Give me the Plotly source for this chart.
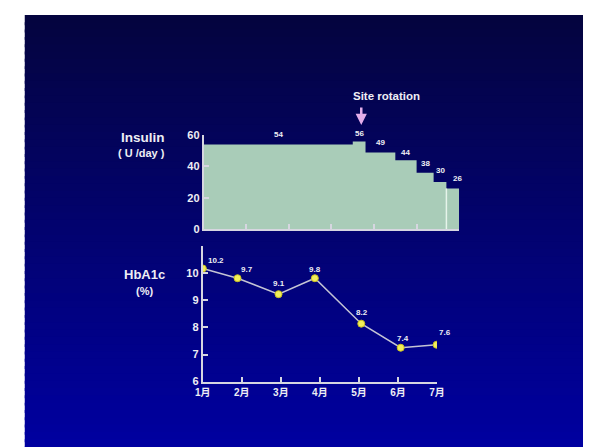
import plotly.graph_objects as go

# ---------------- data ----------------
months = ["1月", "2月", "3月", "4月", "5月", "6月", "7月"]
month_pos = [0, 1, 2, 3, 4, 5, 6]

insulin_step_start = [0.0, 3.5, 3.8, 4.5, 5.0, 5.4, 5.7]
insulin_step_end = 6.0
insulin_dose = [54, 56, 49, 44, 36, 30, 26]
insulin_labels = ["54", "56", "49", "44", "38", "30", "26"]
insulin_ticks = [0, 20, 40, 60]
site_rotation_month = 3.7

hba1c_time = [0.0, 0.89, 1.94, 2.87, 4.06, 5.07, 5.99]
hba1c_value = [10.18, 9.82, 9.23, 9.82, 8.14, 7.25, 7.36]
hba1c_labels = ["10.2", "9.7", "9.1", "9.8", "8.2", "7.4", "7.6"]
hba1c_ticks = [6, 7, 8, 9, 10, 11]
hba1c_ticktext = ["6", "7", "8", "9", "10", ""]

# ---------------- geometry helpers ----------------
# the page places the figure 8px from the left/top of the window
W, H = 591, 447
OX, OY = 8, 8


def fx(px):
    return (px - OX) / W


def fy(py):
    return 1 - (py - OY) / H


FONT = "Liberation Sans, Arial, Noto Sans CJK SC, sans-serif"
TXT = "#eeeef4"
AXC = "#d6d6e0"

fig = go.Figure()

# insulin step area
sx = insulin_step_start + [insulin_step_end]
sy = insulin_dose + [insulin_dose[-1]]
fig.add_trace(go.Scatter(
    x=sx, y=sy, mode="lines", line=dict(shape="hv", width=0, color="#a9ccb8"),
    fill="tozeroy", fillcolor="#a9ccb8", hoverinfo="skip", showlegend=False,
    xaxis="x", yaxis="y"))

# HbA1c line
fig.add_trace(go.Scatter(
    x=hba1c_time, y=hba1c_value, mode="lines+markers",
    line=dict(color="#c4c4d4", width=1.5),
    marker=dict(size=7, color="#f2ee5a", line=dict(color="#c8c020", width=1)),
    hoverinfo="skip", showlegend=False, xaxis="x2", yaxis="y2"))

annotations = []

# insulin value labels
ins_xshift = [0, 0, 0, 0, 0, 0, 5]
ins_yshift = [4, 1, 3, 1, 3, 5, 3]
for i, lab in enumerate(insulin_labels):
    end = insulin_step_start[i + 1] if i + 1 < len(insulin_step_start) else insulin_step_end
    mid = (insulin_step_start[i] + end) / 2
    annotations.append(dict(
        x=mid, y=insulin_dose[i], xref="x", yref="y", text=lab, showarrow=False,
        xanchor="center", yanchor="bottom", xshift=ins_xshift[i], yshift=ins_yshift[i],
        font=dict(family=FONT, size=8, color=TXT, weight="bold")))

# HbA1c value labels
hb_dx = [13, 9, 0, 0, 1, 2, 8]
hb_dy = [8, 9, 11, 9, 11, 9, 12]
for i, lab in enumerate(hba1c_labels):
    annotations.append(dict(
        x=hba1c_time[i], y=hba1c_value[i], xref="x2", yref="y2", text=lab,
        showarrow=False, xanchor="center", yanchor="middle",
        xshift=hb_dx[i], yshift=hb_dy[i],
        font=dict(family=FONT, size=8, color=TXT, weight="bold")))

# site rotation
annotations.append(dict(
    x=fx(389), y=fy(92.5), xref="paper", yref="paper", text="Site rotation",
    showarrow=False, xanchor="center", yanchor="middle",
    font=dict(family=FONT, size=11.5, color=TXT, weight="bold")))
annotations.append(dict(
    x=site_rotation_month, y=fy(122), xref="x", yref="paper", text="",
    showarrow=True, arrowhead=2, arrowsize=0.9, arrowwidth=2.5,
    arrowcolor="#e4aeea", ax=0, ay=-19))

# axis titles
for text, x, y, size in [("Insulin", 138.5, 135, 13.5), ("( U /day )", 137.5, 151, 11),
                         ("HbA1c", 140.5, 275.5, 13), ("(%)", 140, 292.5, 11)]:
    annotations.append(dict(
        x=fx(x), y=fy(y), xref="paper", yref="paper", text=text, showarrow=False,
        xanchor="center", yanchor="middle",
        font=dict(family=FONT, size=size, color=TXT, weight="bold")))

# background gradient (bands overlap to avoid seams)
shapes = []
top, bottom = 9, 460
N = 60
c0 = (4, 4, 62)
c1 = (0, 0, 162)
for k in range(N):
    y0 = top + (bottom - top) * k / N
    y1 = y0 + (bottom - top) / N + 3
    t = (k + 0.5) / N
    col = tuple(round(c0[j] + (c1[j] - c0[j]) * t) for j in range(3))
    shapes.append(dict(
        type="rect", xref="paper", yref="paper", x0=fx(17), x1=fx(W + 20),
        y0=fy(min(y1, bottom)), y1=fy(y0), fillcolor="rgb(%d,%d,%d)" % col,
        line=dict(width=0), layer="below"))

# light edge line inside last insulin step
shapes.append(dict(
    type="line", xref="x", yref="y", x0=insulin_step_start[-1], x1=insulin_step_start[-1],
    y0=0, y1=insulin_dose[-1], line=dict(color="#e6f4ea", width=1.5), layer="above"))

axis_common = dict(
    showline=True, linecolor=AXC, linewidth=2, ticks="inside", ticklen=5,
    tickcolor=AXC, tickwidth=1.5, showgrid=False, zeroline=False,
    tickfont=dict(family=FONT, size=11, color=TXT, weight="bold"), fixedrange=True)

fig.update_layout(
    width=W, height=H, margin=dict(l=0, r=0, t=0, b=0),
    paper_bgcolor="white", plot_bgcolor="rgba(0,0,0,0)",
    showlegend=False,
    xaxis=dict(domain=[fx(201), fx(463.5)], range=[0, 6], tickvals=month_pos,
               showticklabels=False, anchor="y", **axis_common),
    yaxis=dict(domain=[fy(229), fy(132.5)], range=[0, 60], tickvals=insulin_ticks,
               anchor="x", **axis_common),
    xaxis2=dict(domain=[fx(200), fx(440.7)], range=[0, 6], tickvals=month_pos,
                ticktext=months, anchor="y2", **{**axis_common,
                "tickfont": dict(family="Liberation Sans, Noto Sans CJK SC, sans-serif",
                                 size=10, color=TXT, weight="bold")}),
    yaxis2=dict(domain=[fy(385.7), fy(246.7)], range=[6, 11], tickvals=hba1c_ticks,
                ticktext=hba1c_ticktext, anchor="x2", **axis_common),
    annotations=annotations, shapes=shapes,
)

fig.write_html("out.html")
